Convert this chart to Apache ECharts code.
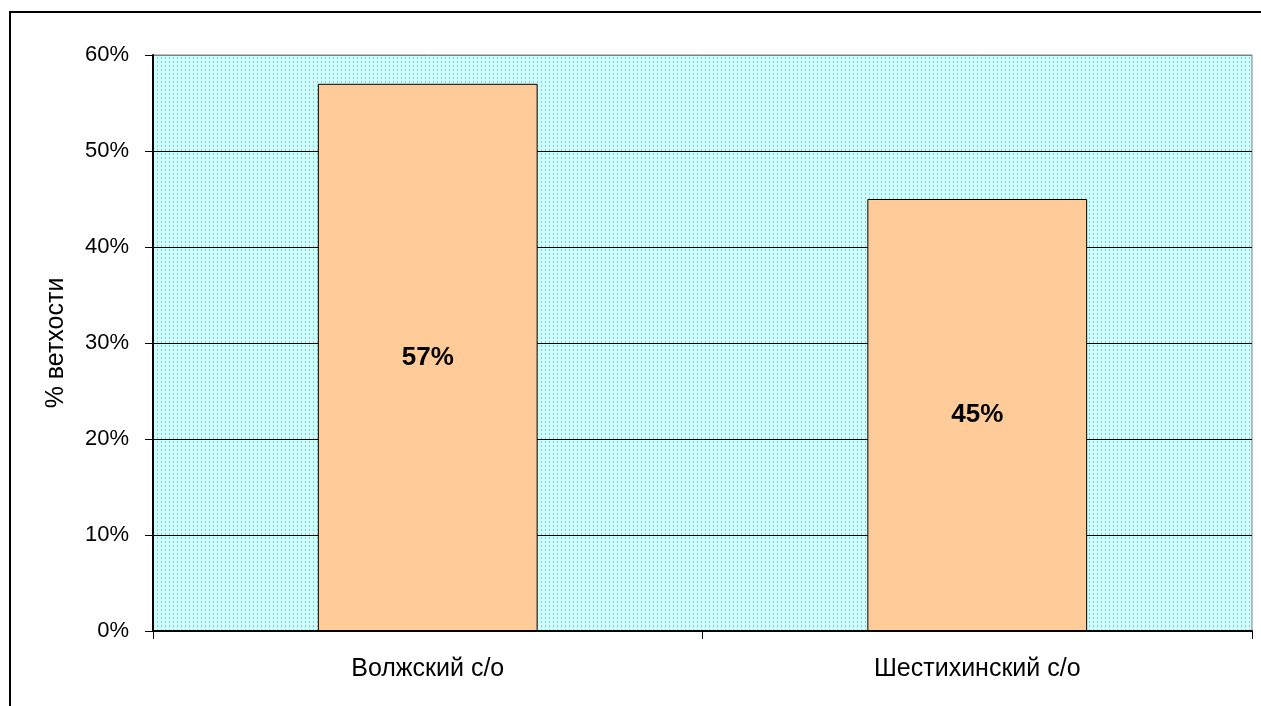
<!DOCTYPE html>
<html>
<head>
<meta charset="utf-8">
<script src="https://cdn.jsdelivr.net/npm/echarts@6/dist/echarts.min.js"></script>
<style>
  html, body { margin: 0; padding: 0; background: #fff; }
  #chart { width: 1261px; height: 706px; }
</style>
</head>
<body>
<div id="chart"></div>
<script>
const categories = ["Волжский с/о", "Шестихинский с/о"];
const wearValues = [57, 45];
const yTicks = { min: 0, max: 60, step: 10 };

// dotted fill like the old spreadsheet plot area
function dotPattern() {
  const c = document.createElement("canvas");
  c.width = 4;
  c.height = 4;
  const ctx = c.getContext("2d");
  ctx.fillStyle = "#ccffff";
  ctx.fillRect(0, 0, 4, 4);
  ctx.fillStyle = "#a4c4c4";
  ctx.fillRect(1, 1, 1, 2);
  return c;
}

// black grid lines, the top one stays grey like the plot border
const gridColors = [];
for (let v = yTicks.min; v <= yTicks.max; v += yTicks.step) {
  gridColors.push(v === yTicks.max ? "#808080" : "#000");
}

const chart = echarts.init(document.getElementById("chart"), null, { renderer: "canvas" });

chart.setOption({
  animation: false,
  textStyle: { fontFamily: "Liberation Sans, Arial, sans-serif" },
  graphic: [
    {
      type: "rect",
      shape: { x: 10, y: 12, width: 1300, height: 760 },
      style: { fill: null, stroke: "#000", lineWidth: 2 },
      z: -1
    }
  ],
  grid: {
    show: true,
    left: 153,
    top: 55,
    right: 9,
    bottom: 75,
    backgroundColor: { image: dotPattern(), repeat: "repeat" },
    borderColor: "#808080",
    borderWidth: 1
  },
  xAxis: {
    type: "category",
    data: categories,
    boundaryGap: true,
    axisLine: { lineStyle: { color: "#000", width: 2 } },
    axisTick: { show: true, length: 8, lineStyle: { color: "#000", width: 1 } },
    axisLabel: { color: "#000", fontSize: 25, margin: 26 }
  },
  yAxis: {
    type: "value",
    min: yTicks.min,
    max: yTicks.max,
    interval: yTicks.step,
    name: "% ветхости",
    nameLocation: "middle",
    nameGap: 84,
    nameRotate: 90,
    nameTextStyle: { color: "#000", fontSize: 25 },
    axisLine: { show: true, lineStyle: { color: "#000", width: 2 } },
    axisTick: { show: true, length: 8, lineStyle: { color: "#000", width: 1 } },
    axisLabel: { color: "#000", fontSize: 22, margin: 24, formatter: "{value}%" },
    splitLine: { show: true, lineStyle: { color: gridColors, width: 1 } }
  },
  series: [
    {
      type: "bar",
      data: wearValues,
      barWidth: "40%",
      itemStyle: { color: "#ffcc99", borderColor: "#000", borderWidth: 1 },
      label: {
        show: true,
        position: "inside",
        formatter: "{c}%",
        color: "#000",
        fontSize: 26,
        fontWeight: "bold"
      }
    }
  ]
});
</script>
</body>
</html>
